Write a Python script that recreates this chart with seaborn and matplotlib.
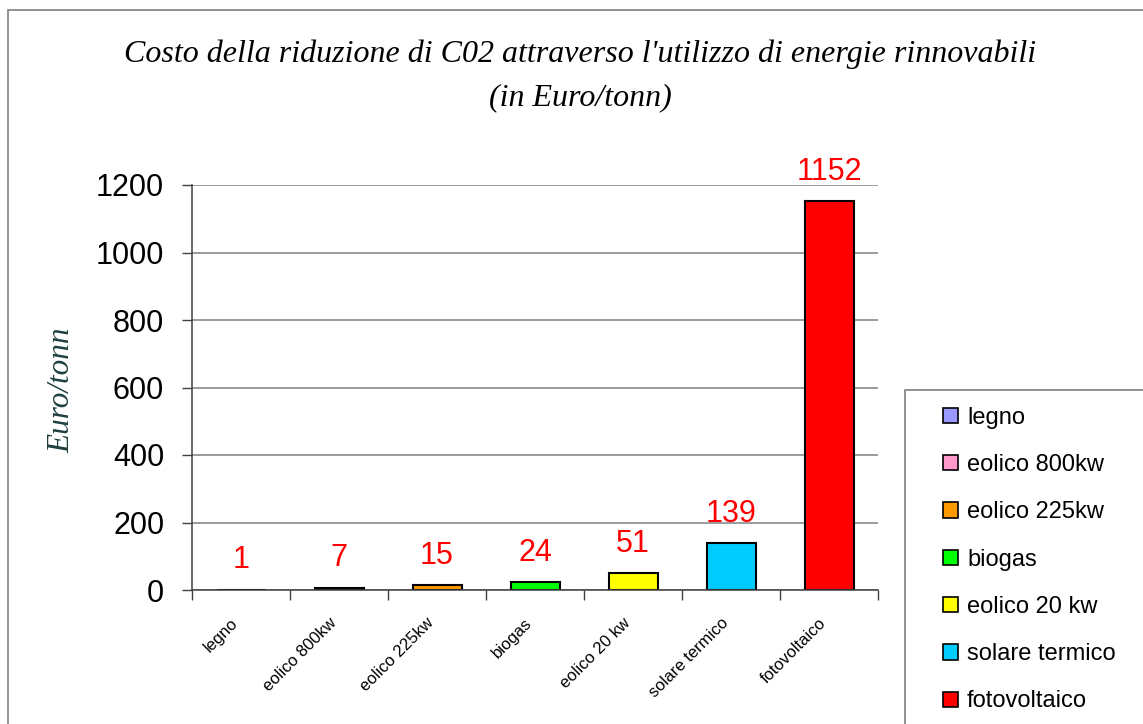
import matplotlib
matplotlib.use("Agg")
import matplotlib.pyplot as plt
from matplotlib.patches import Patch, Rectangle
from matplotlib.ticker import FixedLocator, NullFormatter
import seaborn as sns
import pandas as pd

# Data
categories = ["legno", "eolico 800kw", "eolico 225kw", "biogas",
              "eolico 20 kw", "solare termico", "fotovoltaico"]
tick_labels = ["legno", "eolico 800kw", "eolico 225kw", "biogas",
               "eolico 20 kw", "solare termico", "fotovoltaico"]
legend_labels = ["legno", "eolico 800kw", "eolico 225kw", "biogas",
                 "eolico 20 kw", "solare termico", "fotovoltaico"]
costs = [1, 7, 15, 24, 51, 139, 1152]
bar_colors = ["#9999FF", "#FF99CC", "#FF9900", "#00FF00",
              "#FFFF00", "#00CCFF", "#FF0000"]
y_ticks = [0, 200, 400, 600, 800, 1000, 1200]

df = pd.DataFrame({"fonte": categories, "costo": costs})

sns.set_theme(style="white")
plt.rcParams["font.family"] = ["Liberation Sans", "DejaVu Sans"]
plt.rcParams["text.color"] = "black"

W, H = 1143, 724
fig = plt.figure(figsize=(W / 100, H / 100), dpi=100)
fig.patch.set_facecolor("white")

# outer chart frame
fig.patches.append(Rectangle((8 / W, -0.05), 1.2, (724 - 10) / H + 0.05,
                             transform=fig.transFigure, fill=False,
                             edgecolor="#7f7f7f", linewidth=1.2))

ax = fig.add_axes([192 / W, (724 - 590) / H, (878 - 192) / W, (590 - 185) / H])
ax.set_facecolor("white")

sns.barplot(data=df, x="fonte", y="costo", hue="fonte", palette=bar_colors,
            order=categories, hue_order=categories, width=0.5,
            saturation=1, edgecolor="black", linewidth=1.5,
            legend=False, ax=ax)

ax.set_ylim(0, 1200)
ax.set_xlim(-0.5, len(categories) - 0.5)
ax.set_yticks(y_ticks)
ax.set_yticklabels([str(t) for t in y_ticks], fontsize=22)
ax.yaxis.grid(True, color="#808080", linewidth=1.1)
ax.set_axisbelow(True)

# category labels on major ticks (no marks), boundary marks as minor ticks
ax.set_xticks(range(len(categories)))
ax.set_xticklabels(tick_labels, rotation=45, ha="right", va="top",
                   fontsize=12, rotation_mode="default")
ax.xaxis.set_minor_locator(FixedLocator([i - 0.5 for i in range(len(categories) + 1)]))
ax.xaxis.set_minor_formatter(NullFormatter())
ax.tick_params(axis="x", which="major", length=0, pad=18, labelcolor="black")
ax.tick_params(axis="x", which="minor", length=7, width=1, color="#404040",
               direction="out", bottom=True)
ax.tick_params(axis="y", length=7, width=1, color="#404040", direction="out",
               left=True, pad=13, labelcolor="black")

for side in ["top", "right"]:
    ax.spines[side].set_visible(False)
for side in ["left", "bottom"]:
    ax.spines[side].set_color("#404040")
    ax.spines[side].set_linewidth(1.1)

ax.set_xlabel("")
ax.set_ylabel("")

# value labels above bars
for i, v in enumerate(costs):
    ax.annotate(str(v), xy=(i, v), xytext=(0, 21), textcoords="offset points",
                ha="center", va="center", color="#FF0000", fontsize=22,
                annotation_clip=False)

# titles
fig.text(580 / W, 1 - 54 / H,
         "Costo della riduzione di C02 attraverso l'utilizzo di energie rinnovabili",
         ha="center", va="center", fontsize=23, style="italic",
         family="Liberation Serif", color="black")
fig.text(580 / W, 1 - 98 / H, "(in Euro/tonn)", ha="center", va="center",
         fontsize=23, style="italic", family="Liberation Serif", color="black")
fig.text(62 / W, 1 - 390 / H, "Euro/tonn", rotation=90, ha="center",
         va="center", fontsize=22.5, style="italic", family="Liberation Serif",
         color="#1F3F3F")

# legend box and entries
fig.patches.append(Rectangle((905 / W, -0.05), 0.3, (724 - 390) / H + 0.05,
                             transform=fig.transFigure, fill=True,
                             facecolor="white", edgecolor="#7f7f7f",
                             linewidth=1.2, zorder=1))
handles = [Patch(facecolor=c, edgecolor="black", linewidth=1.2) for c in bar_colors]
fig.legend(handles, legend_labels, loc="upper left",
           bbox_to_anchor=(924 / W, 1 - 388 / H), frameon=False, fontsize=17,
           handlelength=0.62, handleheight=0.62, handletextpad=0.4,
           labelspacing=1.07, borderpad=0.3, labelcolor="black")

fig.savefig("out.png", dpi=100, facecolor="white")
